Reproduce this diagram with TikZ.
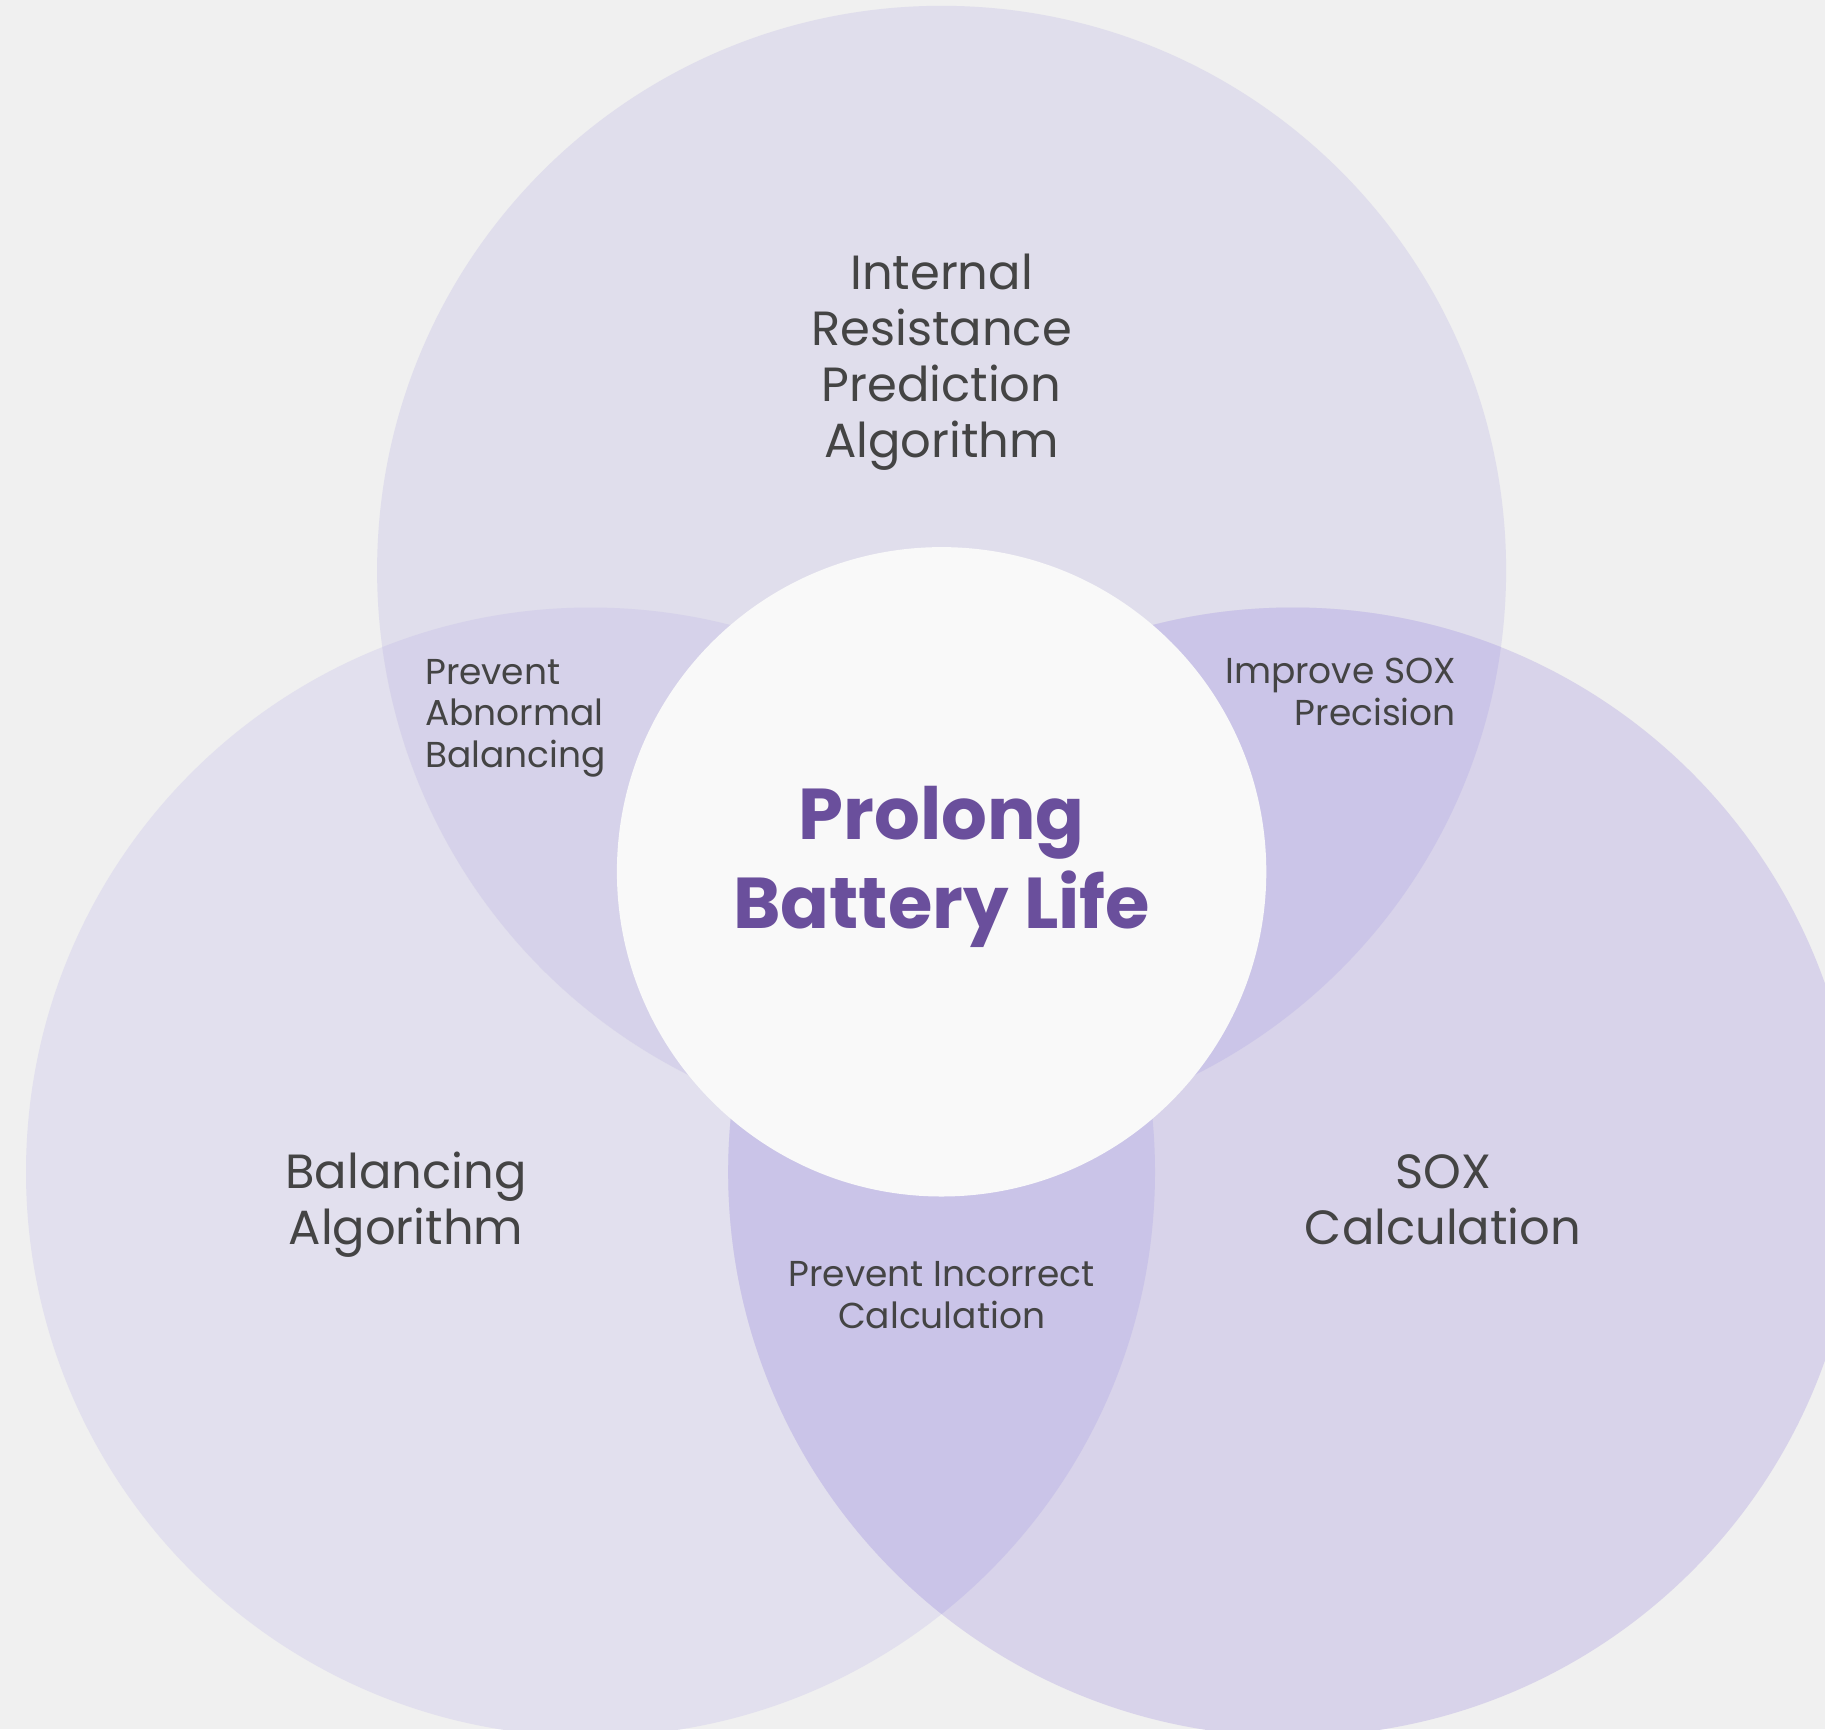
\documentclass[tikz,border=0pt]{standalone}
\usepackage{fontspec}
\setmainfont{Poppins}
\definecolor{bg}{HTML}{F0F0F0}
\definecolor{cTop}{HTML}{E0DEEC}
\definecolor{cBL}{HTML}{E2E0EE}
\definecolor{cBR}{HTML}{D8D3EA}
\definecolor{cTL}{HTML}{D6D2EA}
\definecolor{cTR}{HTML}{CBC5E8}
\definecolor{cLR}{HTML}{CAC4E8}
\definecolor{cCore}{HTML}{F9F9F9}
\definecolor{txt}{HTML}{444444}
\definecolor{ttl}{HTML}{6A4F9C}
\tikzset{
  biglabel/.style={text=txt, align=center, font=\fontsize{48}{56}\selectfont, inner sep=0pt},
  smalllabel/.style={text=txt, font=\fontsize{36}{41.5}\selectfont, inner sep=0pt},
  title/.style={text=ttl, align=center, font=\fontsize{72}{89}\selectfont\bfseries, inner sep=0pt}
}
\begin{document}
\begin{tikzpicture}[x=1pt,y=-1pt]
\useasboundingbox (0,0) rectangle (1825,1729);
\fill[bg] (0,0) rectangle (1825,1729);
\coordinate (T) at (941.6,570.3);
\coordinate (L) at (590.5,1172);
\coordinate (R) at (1292.7,1172);
\def\rr{564.5pt}
\fill[cBL] (L) circle[radius=\rr];
\fill[cTop] (T) circle[radius=\rr];
\fill[cBR] (R) circle[radius=\rr];
\begin{scope}
  \clip (T) circle[radius=\rr];
  \fill[cTL] (L) circle[radius=\rr];
  \fill[cTR] (R) circle[radius=\rr];
\end{scope}
\begin{scope}
  \clip (L) circle[radius=\rr];
  \fill[cLR] (R) circle[radius=\rr];
\end{scope}
\fill[cCore] (941.6,871.8) circle[radius=324.7pt];
\node[title] (core) at (941.6,867) {Prolong\\Battery Life};
\node[biglabel] (ttop) at (941.6,362) {Internal\\Resistance\\Prediction\\Algorithm};
\node[biglabel] (tbl) at (406,1205) {Balancing\\Algorithm};
\node[biglabel] (tbr) at (1443,1200) {SOX\\Calculation};
\node[smalllabel, align=left, anchor=west] (ltl) at (425,718) {Prevent\\Abnormal\\Balancing};
\node[smalllabel, align=right, anchor=east] (ltr) at (1456,692) {Improve SOX\\Precision};
\node[smalllabel, align=center] (lb) at (941.6,1295) {Prevent Incorrect\\Calculation};
\end{tikzpicture}
\end{document}
